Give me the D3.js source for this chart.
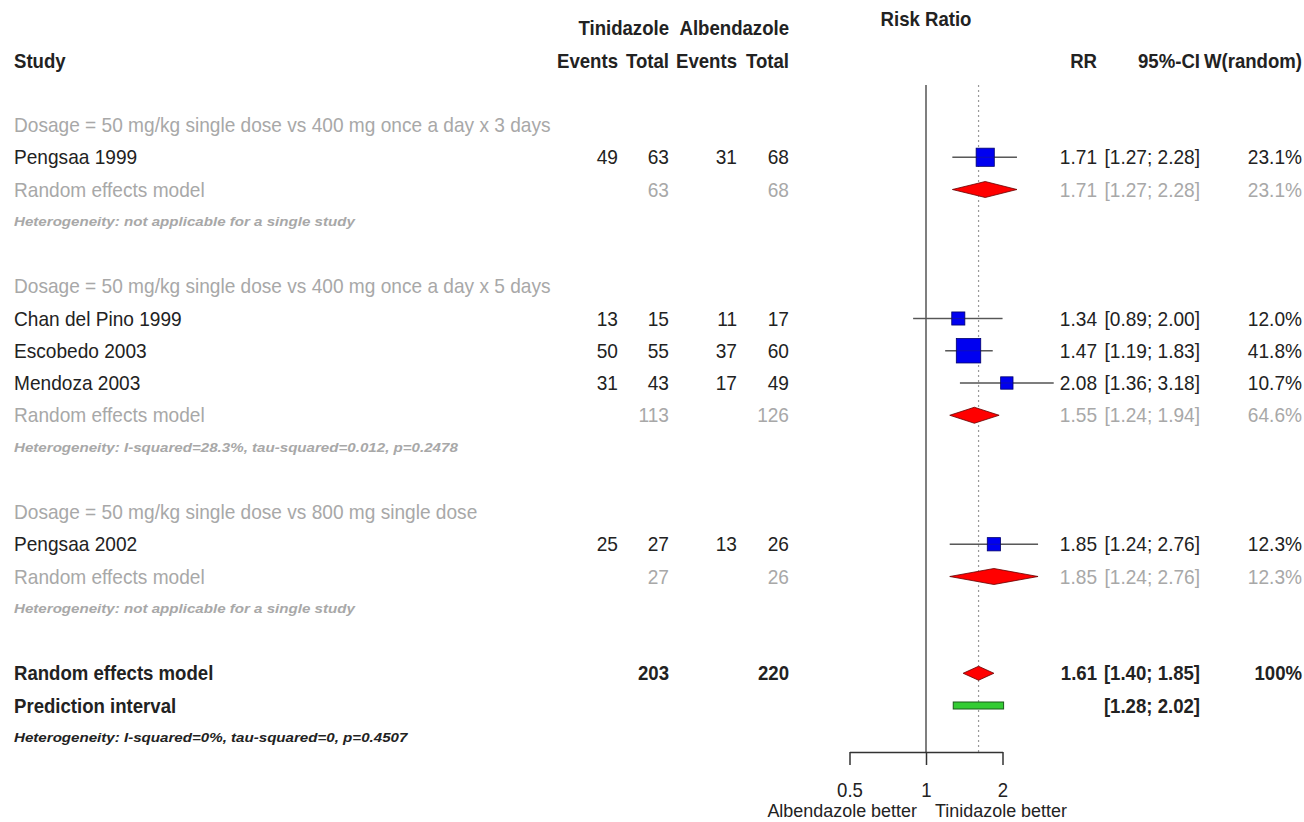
<!DOCTYPE html>
<html>
<head>
<meta charset="utf-8">
<script src="https://cdn.jsdelivr.net/npm/d3@7/dist/d3.min.js"></script>
<style>
  html, body { margin: 0; padding: 0; background: #ffffff; }
  svg { display: block; font-family: "Liberation Sans", Arial, Helvetica, sans-serif; }
</style>
</head>
<body>
<svg id="chart" width="1304" height="822"></svg>
<script>
// ---- Study-level data (Tinidazole vs Albendazole) ----
const studies   = ["Pengsaa 1999", "Chan del Pino 1999", "Escobedo 2003", "Mendoza 2003", "Pengsaa 2002"];
const studyGroup = [0, 1, 1, 1, 2];
const eventsT   = [49, 13, 50, 31, 25];
const totalT    = [63, 15, 55, 43, 27];
const eventsA   = [31, 11, 37, 17, 13];
const totalA    = [68, 17, 60, 49, 26];
const rr        = [1.71, 1.34, 1.47, 2.08, 1.85];
const rrLower   = [1.27, 0.89, 1.19, 1.36, 1.24];
const rrUpper   = [2.28, 2.00, 1.83, 3.18, 2.76];
const weights   = [23.1, 12.0, 41.8, 10.7, 12.3];

// ---- Subgroup summaries ----
const groupLabels = [
  "Dosage = 50 mg/kg single dose vs 400 mg once a day x 3 days",
  "Dosage = 50 mg/kg single dose vs 400 mg once a day x 5 days",
  "Dosage = 50 mg/kg single dose vs 800 mg single dose"
];
const groupTotalT = [63, 113, 27];
const groupTotalA = [68, 126, 26];
const groupRR     = [1.71, 1.55, 1.85];
const groupLower  = [1.27, 1.24, 1.24];
const groupUpper  = [2.28, 1.94, 2.76];
const groupWeight = [23.1, 64.6, 12.3];
const groupHet = [
  "Heterogeneity: not applicable for a single study",
  "Heterogeneity: I-squared=28.3%, tau-squared=0.012, p=0.2478",
  "Heterogeneity: not applicable for a single study"
];

// ---- Overall summary ----
const overallTotalT = 203;
const overallTotalA = 220;
const overallRR = 1.61, overallLower = 1.40, overallUpper = 1.85, overallWeight = 100;
const predLower = 1.28, predUpper = 2.02;
const overallHet = "Heterogeneity: I-squared=0%, tau-squared=0, p=0.4507";

// ---- Axis ticks ----
const tickValues = [0.5, 1, 2];
const tickLabels = ["0.5", "1", "2"];
const leftLabel = "Albendazole better";
const rightLabel = "Tinidazole better";

// ---- Layout ----
const svg = d3.select("#chart");
const DARK = "#222222", GREY = "#a8a8a8";
const rowTop = 125, rowH = 32.25;
const rowY = i => rowTop + i * rowH;
const axisY = 752;

const x = d3.scaleLog().domain([0.5, 2]).range([849.5, 1002.5]);
const side = d3.scaleSqrt().domain([0, 100]).range([0, 37.8]);

const col = { study: 14, evT: 618, totT: 669, evA: 737, totA: 789, rr: 1097, ci: 1200, w: 1302 };

// text helper: horizontal scale keeps glyph height while matching widths
function label(g, px, py, str, o = {}) {
  const size = o.size || 20;
  const sx = o.sx || (o.weight === "bold" ? 0.93 : 0.955);
  return g.append("text")
    .attr("transform", `translate(${px},${py}) scale(${sx},1)`)
    .attr("dy", "0.36em")
    .attr("text-anchor", o.anchor || "start")
    .attr("font-size", size)
    .attr("font-weight", o.weight || "normal")
    .attr("font-style", o.style || "normal")
    .attr("fill", o.fill || DARK)
    .text(str);
}
const fmtCI = (l, u) => `[${l.toFixed(2)}; ${u.toFixed(2)}]`;
const fmtW = w => w === 100 ? "100%" : w.toFixed(1) + "%";

const txt = svg.append("g");
const marks = svg.append("g");

// Headers
label(txt, 926, 19, "Risk Ratio", { anchor: "middle", weight: "bold" });
label(txt, col.totT, rowY(-3), "Tinidazole", { anchor: "end", weight: "bold" });
label(txt, col.totA, rowY(-3), "Albendazole", { anchor: "end", weight: "bold" });
label(txt, col.study, rowY(-2), "Study", { weight: "bold" });
[["Events", col.evT], ["Total", col.totT], ["Events", col.evA], ["Total", col.totA],
 ["RR", col.rr], ["95%-CI", col.ci], ["W(random)", col.w]].forEach(([s, cx]) =>
  label(txt, cx, rowY(-2), s, { anchor: "end", weight: "bold" }));

// Reference lines (no effect, overall estimate)
marks.append("line")
  .attr("x1", x(1)).attr("x2", x(1)).attr("y1", 85).attr("y2", axisY)
  .attr("stroke", "#555").attr("stroke-width", 1.5);
marks.append("line")
  .attr("x1", x(overallRR)).attr("x2", x(overallRR)).attr("y1", 85).attr("y2", axisY)
  .attr("stroke", "#999").attr("stroke-width", 1.2).attr("stroke-dasharray", "2,3");

function diamond(yc, est, lo, hi, h) {
  marks.append("path")
    .attr("d", `M${x(lo)},${yc}L${x(est)},${yc - h}L${x(hi)},${yc}L${x(est)},${yc + h}Z`)
    .attr("fill", "#ff0000").attr("stroke", "#660000").attr("stroke-width", 0.8);
}

let r = 0;
groupLabels.forEach((gl, g) => {
  label(txt, col.study, rowY(r), gl, { fill: GREY });
  r++;
  studies.forEach((s, i) => {
    if (studyGroup[i] !== g) return;
    const y = rowY(r);
    label(txt, col.study, y, s);
    label(txt, col.evT, y, String(eventsT[i]), { anchor: "end" });
    label(txt, col.totT, y, String(totalT[i]), { anchor: "end" });
    label(txt, col.evA, y, String(eventsA[i]), { anchor: "end" });
    label(txt, col.totA, y, String(totalA[i]), { anchor: "end" });
    label(txt, col.rr, y, rr[i].toFixed(2), { anchor: "end" });
    label(txt, col.ci, y, fmtCI(rrLower[i], rrUpper[i]), { anchor: "end" });
    label(txt, col.w, y, fmtW(weights[i]), { anchor: "end" });
    marks.append("line")
      .attr("x1", x(rrLower[i])).attr("x2", x(rrUpper[i])).attr("y1", y).attr("y2", y)
      .attr("stroke", "#666").attr("stroke-width", 1.6);
    const s2 = side(weights[i]);
    marks.append("rect")
      .attr("x", x(rr[i]) - s2 / 2).attr("y", y - s2 / 2)
      .attr("width", s2).attr("height", s2)
      .attr("fill", "#0000f0").attr("stroke", "#00006a").attr("stroke-width", 0.8);
    marks.append("line")
      .attr("x1", x(rrLower[i])).attr("x2", x(rrUpper[i])).attr("y1", y).attr("y2", y)
      .attr("stroke", "#333").attr("stroke-width", 0.6).attr("opacity", 0.5);
    r++;
  });
  const y = rowY(r);
  label(txt, col.study, y, "Random effects model", { fill: GREY });
  label(txt, col.totT, y, String(groupTotalT[g]), { anchor: "end", fill: GREY });
  label(txt, col.totA, y, String(groupTotalA[g]), { anchor: "end", fill: GREY });
  label(txt, col.rr, y, groupRR[g].toFixed(2), { anchor: "end", fill: GREY });
  label(txt, col.ci, y, fmtCI(groupLower[g], groupUpper[g]), { anchor: "end", fill: GREY });
  label(txt, col.w, y, fmtW(groupWeight[g]), { anchor: "end", fill: GREY });
  diamond(y, groupRR[g], groupLower[g], groupUpper[g], 8);
  r++;
  label(txt, col.study, rowY(r), groupHet[g], { size: 12.5, sx: 1.21, weight: "bold", style: "italic", fill: GREY });
  r += 2;
});

// Overall random effects model
{
  const y = rowY(r);
  label(txt, col.study, y, "Random effects model", { weight: "bold" });
  label(txt, col.totT, y, String(overallTotalT), { anchor: "end", weight: "bold" });
  label(txt, col.totA, y, String(overallTotalA), { anchor: "end", weight: "bold" });
  label(txt, col.rr, y, overallRR.toFixed(2), { anchor: "end", weight: "bold" });
  label(txt, col.ci, y, fmtCI(overallLower, overallUpper), { anchor: "end", weight: "bold" });
  label(txt, col.w, y, fmtW(overallWeight), { anchor: "end", weight: "bold" });
  diamond(y, overallRR, overallLower, overallUpper, 7);
  r++;
  const yp = rowY(r);
  label(txt, col.study, yp, "Prediction interval", { weight: "bold" });
  label(txt, col.ci, yp, fmtCI(predLower, predUpper), { anchor: "end", weight: "bold" });
  marks.append("rect")
    .attr("x", x(predLower)).attr("y", yp - 3.5)
    .attr("width", x(predUpper) - x(predLower)).attr("height", 7)
    .attr("fill", "#33cc33").attr("stroke", "#1a5c1a").attr("stroke-width", 1);
  r++;
  label(txt, col.study, rowY(r), overallHet, { size: 12.5, sx: 1.21, weight: "bold", style: "italic" });
}

// X axis (ticks point downward)
const axis = d3.axisBottom(x).tickValues(tickValues)
  .tickFormat((d, i) => tickLabels[i]).tickSizeInner(13).tickSizeOuter(0);
const ax = svg.append("g").attr("transform", `translate(0,${axisY})`).call(axis);
ax.select(".domain").attr("stroke", "#333").attr("stroke-width", 1.5);
ax.selectAll(".tick line").attr("stroke", "#333").attr("stroke-width", 1.5);
ax.selectAll(".tick text")
  .attr("font-size", 20).attr("fill", DARK).attr("y", 0).attr("dy", "0.36em")
  .attr("transform", "translate(0,38) scale(0.93,1)")
  .attr("font-family", "Liberation Sans, Arial, sans-serif");

label(txt, x(1) - 9, 810, leftLabel, { anchor: "end", size: 18.5, sx: 0.97 });
label(txt, x(1) + 9, 810, rightLabel, { anchor: "start", size: 18.5, sx: 0.97 });
</script>
</body>
</html>
